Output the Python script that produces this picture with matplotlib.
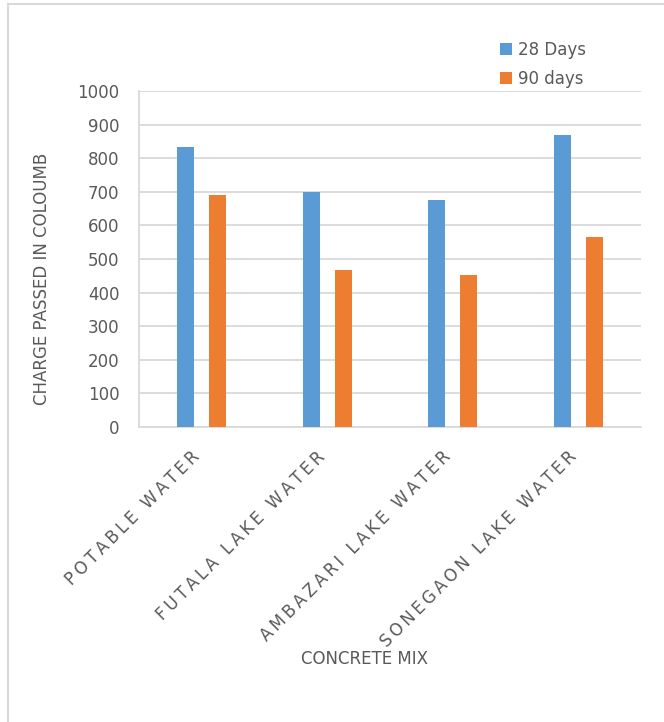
import matplotlib
matplotlib.use("Agg")
import matplotlib.pyplot as plt
import matplotlib.transforms as mtransforms
import numpy as np

categories = ["POTABLE WATER", "FUTALA LAKE WATER", "AMBAZARI LAKE WATER", "SONEGAON LAKE WATER"]
days_28 = [834, 699, 675, 870]
days_90 = [690, 466, 451, 565]
series_labels = ["28 Days", "90 days"]
yticks = [0, 100, 200, 300, 400, 500, 600, 700, 800, 900, 1000]

BLUE = "#5b9bd5"
ORANGE = "#ed7d31"
TEXT = "#595959"
GRID = "#d9d9d9"
FS = 12

plt.rcParams["font.family"] = ["DejaVu Sans"]

W, H = 664, 722
fig = plt.figure(figsize=(W / 100, H / 100), dpi=100)


def fx(px):
    return px / W


def fy(py):
    return 1 - py / H


def tracked(s):
    # widen letter spacing of the slanted category labels
    return "\u2009".join(s)


ax = fig.add_axes([fx(139), fy(427), fx(641) - fx(139), fy(91) - fy(427)])

x = np.arange(len(categories))
width = 0.136
offset = 0.128
ax.bar(x - offset, days_28, width, color=BLUE, label=series_labels[0], zorder=3)
ax.bar(x + offset, days_90, width, color=ORANGE, label=series_labels[1], zorder=3)

ax.set_xlim(-0.5, len(categories) - 0.5)
ax.set_ylim(0, 1000)
ax.set_yticks(yticks)
ax.yaxis.grid(True, color=GRID, linewidth=1.3, zorder=0)
ax.set_axisbelow(True)

for side in ["top", "right"]:
    ax.spines[side].set_visible(False)
ax.spines["left"].set_color(GRID)
ax.spines["left"].set_linewidth(1.3)
ax.spines["bottom"].set_color(GRID)
ax.spines["bottom"].set_linewidth(1.3)

ax.tick_params(axis="both", length=0, colors=TEXT)
ax.tick_params(axis="y", labelsize=FS, pad=14)
ax.set_xticks(x)
ax.set_xticklabels([tracked(c) for c in categories], rotation=45, ha="right",
                   va="top", rotation_mode="anchor", fontsize=FS, color=TEXT)
ax.tick_params(axis="x", pad=15)
shift = mtransforms.ScaledTranslation(-8 / 72, 0, fig.dpi_scale_trans)
for lbl in ax.get_xticklabels():
    lbl.set_transform(lbl.get_transform() + shift)

fig.text(fx(42), fy(279), "CHARGE PASSED IN COLOUMB", rotation=90,
         ha="center", va="center", fontsize=FS, color=TEXT)
fig.text(fx(364), fy(659), "CONCRETE MIX", ha="center", va="center",
         fontsize=FS, color=TEXT)

leg = fig.legend(loc="upper left", bbox_to_anchor=(fx(500), fy(41)),
                 frameon=False, fontsize=FS, handlelength=0.7,
                 handleheight=0.7, handletextpad=0.35, labelspacing=0.66,
                 borderpad=0, borderaxespad=0)
for t in leg.get_texts():
    t.set_color(TEXT)

# thin frame lines along the top and left edges of the chart area
fig.add_artist(plt.Line2D([fx(8), fx(8)], [fy(4), 0], color=GRID, linewidth=1.5))
fig.add_artist(plt.Line2D([fx(8), 1], [fy(4), fy(4)], color=GRID, linewidth=1.5))

fig.savefig("out.png", dpi=100, facecolor="white")
